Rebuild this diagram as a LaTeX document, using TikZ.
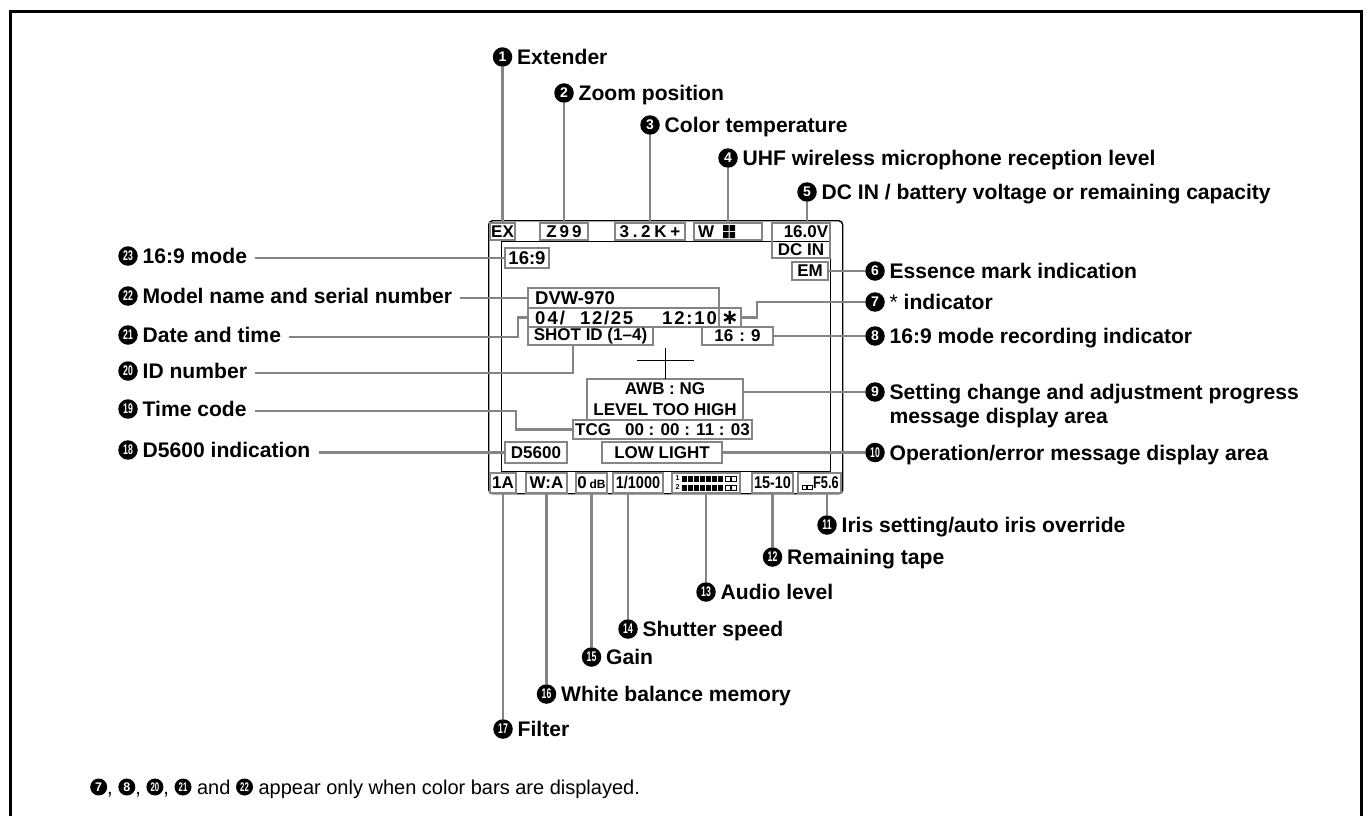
\documentclass[tikz,border=0pt]{standalone}
\usepackage{fontspec}
\setmainfont{Liberation Sans}
\newfontfamily\djv{DejaVu Sans}
\usepackage{graphicx}
\definecolor{bx}{HTML}{858585}
\newcommand\tw[1]{\scalebox{0.62}[1]{#1}}
\newcommand\scr{\bfseries\fontsize{17}{17}\selectfont}
\tikzset{
  sbox/.style={draw=bx, line width=2.1pt, inner sep=0pt, outer sep=0pt, font=\scr},
  conn/.style={draw=bx, line width=2.2pt},
  numc/.style={circle, fill=black, text=white, inner sep=0pt, minimum size=19.5pt, font=\bfseries\fontsize{14}{14}\selectfont},
  fnumc/.style={circle, fill=black, text=white, inner sep=0pt, minimum size=17pt, font=\bfseries\fontsize{12.5}{12.5}\selectfont},
  labt/.style={anchor=base west, inner sep=0pt, font=\bfseries\fontsize{21.1}{24}\selectfont},
  stxt/.style={inner sep=0pt, font=\scr},
}
\newcommand\mybox[7]{\node[sbox,anchor=north west,minimum width=#4pt,minimum height=#5pt,#6] (#1) at (#2,#3) {#7};}
\newcommand\lab[5]{\node[numc] (c#1) at (#2,#3) {#4};
  \node[labt] (l#1) at ([xshift=4.5pt,yshift=-7.6pt]c#1.east) {#5};}
\newcommand\fcn[1]{\tikz[baseline={([yshift=-7pt]n.center)}]\node[fnumc](n){#1};}
\begin{document}
\begin{tikzpicture}[x=1pt,y=-1pt]
\useasboundingbox (0,0) rectangle (1371,816);
% outer frame
\draw[line width=3pt] (10,820) -- (10,12) -- (1361,12) -- (1361,820);
% screen
\node[draw=black, line width=1.4pt, rounded corners=4pt, minimum width=354pt, minimum height=273pt, anchor=north west, inner sep=0pt] (screen) at (488,220) {};
\node[draw=black, line width=0.9pt, minimum width=329pt, minimum height=230pt, anchor=north west, inner sep=0pt] (inner) at (501,241) {};
% top row
\mybox{ex}{490}{223}{25}{17}{}{EX}
\mybox{z99}{540}{223}{48}{17}{font=\scr\addfontfeature{LetterSpace=18}}{Z99}
\mybox{ct}{615}{223}{70}{17}{font=\scr\addfontfeature{LetterSpace=22}}{3.2K+}
\mybox{wl}{694}{223}{68}{17}{}{}
\node[stxt, anchor=west] (wtxt) at (698,231.5) {W};
\fill (723,225) rectangle (728.5,231) (729.5,225) rectangle (735,231)
      (723,232) rectangle (728.5,238) (729.5,232) rectangle (735,238);
\mybox{bat}{772}{223}{58}{35}{}{}
\node[stxt] (vtxt) at (806,232) {16.0V};
\node[stxt] (dctxt) at (801,250) {DC IN};
\mybox{em}{792}{262}{36}{18}{}{EM}
\mybox{asp}{505}{248}{44}{20}{font=\bfseries\fontsize{18.5}{18.5}\selectfont}{16:9}
% model / date
\mybox{dvw}{528}{288}{191}{20}{}{}
\node[stxt, anchor=west, font=\bfseries\fontsize{18.5}{18.5}\selectfont] (dvwt) at (535,298) {DVW-970};
\mybox{date}{528}{308}{191}{19}{}{}
\node[stxt, anchor=base west, font=\bfseries\fontsize{18.5}{18.5}\selectfont\addfontfeature{LetterSpace=11}] (d1) at (535,324) {04/};
\node[stxt, anchor=base west, font=\bfseries\fontsize{18.5}{18.5}\selectfont\addfontfeature{LetterSpace=9}] (d2) at (580,324) {12/25};
\node[stxt, anchor=base west, font=\bfseries\fontsize{18.5}{18.5}\selectfont\addfontfeature{LetterSpace=10}] (d3) at (662,324) {12:10};
\mybox{star}{719}{308}{22}{19}{font=\djv\bfseries\fontsize{21}{21}\selectfont}{∗}
\mybox{shot}{528}{327}{125}{18}{}{SHOT ID (1–4)}
\mybox{rec}{702}{327}{71}{18}{}{16\hspace{6pt}:\hspace{6pt}9}
% crosshair
\mybox{awb}{587}{379}{156}{41}{align=center, font=\bfseries\fontsize{17}{21}\selectfont}{AWB : NG\\LEVEL TOO HIGH}
\draw[line width=1pt] (637,360) -- (694,360);
\draw[line width=1pt] (665,348) -- (awb.north);
\mybox{tcg}{573}{420}{179}{19}{}{TCG\hspace{14pt}00 : 00 : 11 : 03}
\mybox{low}{602}{442}{120}{21}{}{LOW LIGHT}
\mybox{d56}{505}{442}{62}{21}{}{D5600}
% bottom row
\mybox{fa}{490}{473}{26}{20}{}{1A}
\mybox{wa}{526}{473}{41}{20}{}{W:A}
\mybox{gain}{576}{473}{31}{20}{}{0\,{\fontsize{12}{12}\selectfont dB}}
\mybox{shut}{613}{473}{50}{20}{}{\scalebox{0.85}[1]{1/1000}}
\mybox{aud}{672}{473}{68}{20}{}{}
\node[stxt, font=\bfseries\fontsize{7}{7}\selectfont] (m1) at (677.5,478.5) {1};
\node[stxt, font=\bfseries\fontsize{7}{7}\selectfont] (m2) at (677.5,487.5) {2};
\foreach \i in {0,...,6} {\fill (682+\i*6,476) rectangle ++(5,6); \fill (682+\i*6,485) rectangle ++(5,6);}
\foreach \i in {0,1} {\draw[line width=0.6pt] (725+\i*6.5,476.5) rectangle ++(5,5); \draw[line width=0.6pt] (725+\i*6.5,485.5) rectangle ++(5,5);}
\mybox{tape}{752}{473}{41}{20}{}{\scalebox{0.85}[1]{15-10}}
\mybox{iris}{798}{473}{43}{20}{}{}
\draw[line width=0.6pt] (802,485) rectangle ++(4.5,4.5) (807.5,485) rectangle ++(4.5,4.5);
\node[stxt, anchor=west] (f56) at (813,483) {\scalebox{0.75}[1]{F5.6}};
% labels
\lab{1}{502.5}{57}{1}{Extender}
\lab{2}{564}{93}{2}{Zoom position}
\lab{3}{650}{125}{3}{Color temperature}
\lab{4}{728}{158}{4}{UHF wireless microphone reception level}
\lab{5}{807}{192}{5}{DC IN / battery voltage or remaining capacity}
\lab{6}{875}{271}{6}{Essence mark indication}
\lab{7}{875}{302}{7}{{\mdseries *} indicator}
\lab{8}{875}{336}{8}{16:9 mode recording indicator}
\lab{9}{875}{392}{9}{Setting change and adjustment progress}
\node[labt] (l9b) at ([yshift=-24pt]l9.base west) {message display area};
\lab{10}{875}{452.5}{\tw{10}}{Operation/error message display area}
\lab{11}{827}{525}{\tw{11}}{Iris setting/auto iris override}
\lab{12}{772.5}{557}{\tw{12}}{Remaining tape}
\lab{13}{706}{592}{\tw{13}}{Audio level}
\lab{14}{628}{629}{\tw{14}}{Shutter speed}
\lab{15}{591.5}{657}{\tw{15}}{Gain}
\lab{16}{546.5}{694}{\tw{16}}{White balance memory}
\lab{17}{503}{729}{\tw{17}}{Filter}
\lab{18}{128}{450}{\tw{18}}{D5600 indication}
\lab{19}{128}{409}{\tw{19}}{Time code}
\lab{20}{128}{371}{\tw{20}}{ID number}
\lab{21}{128}{335}{\tw{21}}{Date and time}
\lab{22}{128}{296}{\tw{22}}{Model name and serial number}
\lab{23}{128}{256}{\tw{23}}{16:9 mode}
% connectors top
\draw[conn] (ex.north) -- (ex.north |- c1.south);
\draw[conn] (z99.north) -- (z99.north |- c2.south);
\draw[conn] (ct.north) -- (ct.north |- c3.south);
\draw[conn] (wl.north) -- (wl.north |- c4.south);
\draw[conn] (c5.south) -- (c5.south |- bat.north);
% connectors right
\draw[conn] (em.east) -- (c6.west);
\draw[conn] (star.east) -- ++(16,0) |- (c7.west);
\draw[conn] (rec.east) -- (rec.east -| c8.west);
\draw[conn] (awb.east |- c9.west) -- (c9.west);
\draw[conn] (low.east) -- (low.east -| c10.west);
% connectors bottom
\draw[conn] (iris.south -| c11.north) -- (c11.north);
\draw[conn] (tape.south) -- (tape.south |- c12.north);
\draw[conn] (aud.south) -- (aud.south |- c13.north);
\draw[conn] (shut.south -| c14.north) -- (c14.north);
\draw[conn] (gain.south) -- (gain.south |- c15.north);
\draw[conn] (wa.south) -- (wa.south |- c16.north);
\draw[conn] (fa.south) -- (fa.south |- c17.north);
% connectors left
\coordinate (s23) at ([xshift=8pt]l23.east);
\coordinate (s22) at ([xshift=8pt]l22.east);
\coordinate (s21) at ([xshift=8pt]l21.east);
\coordinate (s20) at ([xshift=8pt]l20.east);
\coordinate (s19) at ([xshift=8pt]l19.east);
\coordinate (s18) at ([xshift=8pt]l18.east);
\draw[conn] (s23 |- asp.west) -- (asp.west);
\draw[conn] (s22 |- dvw.west) -- (dvw.west);
\draw[conn] (s21 |- 0,337) -- (518,337) |- (date.west);
\draw[conn] (s20 |- 0,373) -| ([xshift=-17.5pt]shot.south);
\draw[conn] (s19 |- 0,411) -- (516,411) |- (tcg.west);
\draw[conn] (s18 |- d56.west) -- (d56.west);
% footnote
\node[anchor=base west, inner sep=0pt, font=\fontsize{20}{22}\selectfont] (foot) at (90,794)
  {\fcn{7}, \fcn{8}, \fcn{\tw{20}}, \fcn{\tw{21}} and \fcn{\tw{22}} appear only when color bars are displayed.};
\end{tikzpicture}
\end{document}
